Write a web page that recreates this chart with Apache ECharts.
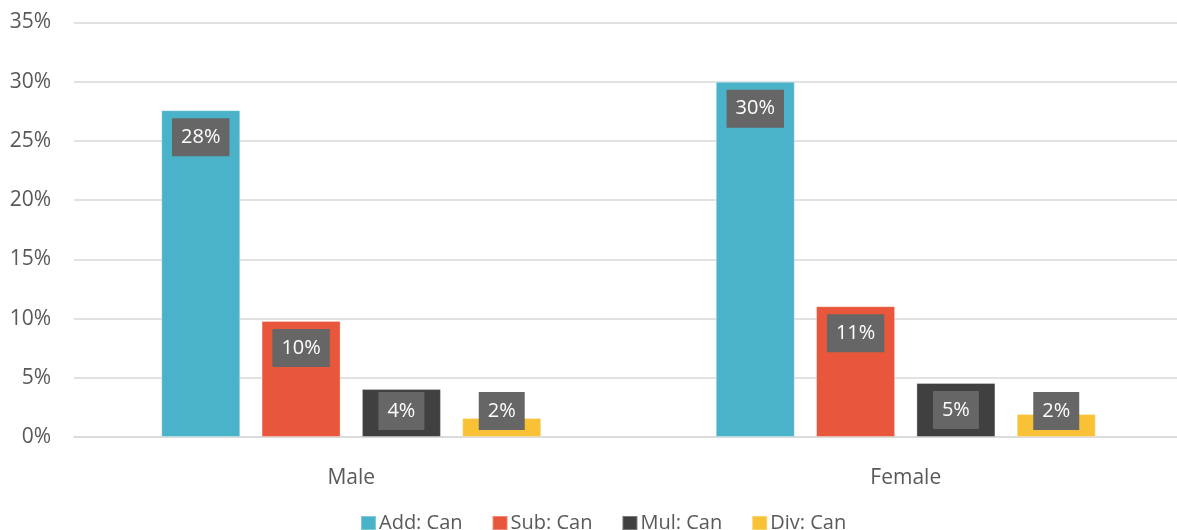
<!DOCTYPE html>
<html>
<head>
<meta charset="utf-8">
<script src="https://cdn.jsdelivr.net/npm/echarts@6/dist/echarts.min.js"></script>
<style>
  html, body { margin: 0; padding: 0; background: #fff; }
  #chart { width: 1177px; height: 530px; }
</style>
</head>
<body>
<div id="chart"></div>
<script>
// Share of respondents who "can" do each operation, by gender (percent)
const categories = ['Male', 'Female'];
const seriesNames = ['Add: Can', 'Sub: Can', 'Mul: Can', 'Div: Can'];
const addCan = [27.6, 30.0];
const subCan = [9.8, 11.05];
const mulCan = [4.06, 4.56];
const divCan = [1.6, 1.94];
const yTicks = { min: 0, max: 35, interval: 5 };

const colors = ['#4BB3C9', '#E8573B', '#404040', '#F9C236'];
const values = [addCan, subCan, mulCan, divCan];
const FONT = '"Open Sans", "Noto Sans", sans-serif';

const chart = echarts.init(document.getElementById('chart'), null, { renderer: 'canvas' });

// label box: dark grey tag with white percentage text
const LABEL_H = 38;      // padding*2 + lineHeight
const TOP_GAP = 8;       // gap from bar top when label sits inside
const BOTTOM_GAP = 7;    // minimum gap above the axis

function baseLabel() {
  return {
    show: true,
    formatter: p => Math.round(p.value) + '%',
    color: '#fff',
    backgroundColor: '#666666',
    fontFamily: FONT,
    fontSize: 20,
    lineHeight: 24,
    padding: [7, 9]
  };
}

function buildSeries(labelFor) {
  return seriesNames.map((name, si) => ({
    name,
    type: 'bar',
    barWidth: 79,
    barGap: '27%',
    itemStyle: { color: colors[si], borderColor: 'rgba(255,255,255,0.3)', borderWidth: 1 },
    label: baseLabel(),
    data: values[si].map(v => {
      const d = { value: v };
      const l = labelFor ? labelFor(v) : null;
      if (l) d.label = l;
      return d;
    })
  }));
}

chart.setOption({
  animation: false,
  color: colors,
  // plot area runs past the right edge of the canvas
  grid: { left: 74, width: 1109, top: 22.5, height: 414.5, containLabel: false, outerBoundsMode: 'none' },
  legend: {
    data: seriesNames,
    top: 508,
    left: 355,
    icon: 'rect',
    itemWidth: 15,
    itemHeight: 14,
    itemGap: 29,
    textStyle: { fontFamily: FONT, fontSize: 20, color: '#595959', padding: [0, 0, 0, -2] }
  },
  xAxis: {
    type: 'category',
    data: categories,
    axisLine: { show: true, lineStyle: { color: '#d9d9d9', width: 1.5 } },
    axisTick: { show: false },
    axisLabel: { fontFamily: FONT, fontSize: 21, color: '#595959', margin: 31 }
  },
  yAxis: {
    type: 'value',
    min: yTicks.min,
    max: yTicks.max,
    interval: yTicks.interval,
    axisLine: { show: false },
    axisTick: { show: false },
    splitLine: { lineStyle: { color: '#d9d9d9', width: 1.5 } },
    axisLabel: { fontFamily: FONT, fontSize: 21, color: '#595959', margin: 23, formatter: v => v + '%' }
  },
  series: buildSeries(null)
});

// Place each tag inside the bar top; when the bar is too short, keep the tag just above the axis
const zeroPx = chart.convertToPixel({ yAxisIndex: 0 }, 0);
chart.setOption({
  series: buildSeries(v => {
    const h = zeroPx - chart.convertToPixel({ yAxisIndex: 0 }, v);
    if (h - TOP_GAP - LABEL_H < BOTTOM_GAP) {
      return Object.assign(baseLabel(), { position: 'insideBottom', distance: BOTTOM_GAP });
    }
    return Object.assign(baseLabel(), { position: 'insideTop', distance: TOP_GAP });
  })
});
</script>
</body>
</html>
